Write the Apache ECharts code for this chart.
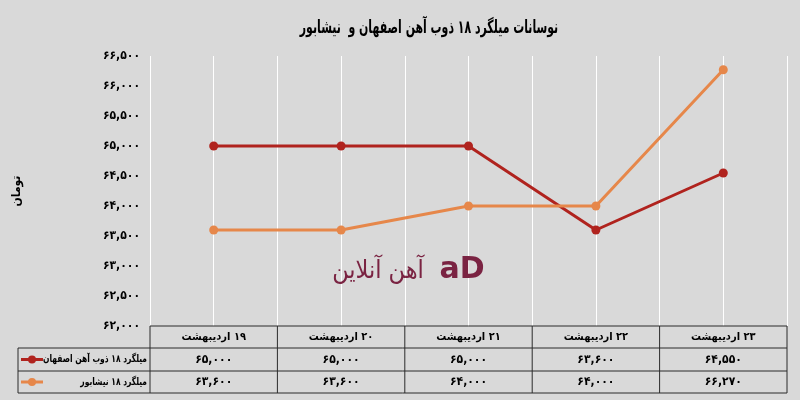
<!DOCTYPE html>
<html>
<head>
<meta charset="utf-8">
<script src="https://cdn.jsdelivr.net/npm/echarts@6/dist/echarts.min.js"></script>
<style>
html,body{margin:0;padding:0;background:#d9d9d9;}
#chart{width:800px;height:400px;}
</style>
</head>
<body>
<div id="chart"></div>
<script>
const titleText = 'نوسانات میلگرد ۱۸ ذوب آهن اصفهان و  نیشابور';
const yAxisName = 'تومان';
const categories = ['۱۹ اردیبهشت', '۲۰ اردیبهشت', '۲۱ اردیبهشت', '۲۲ اردیبهشت', '۲۳ اردیبهشت'];
const seriesNames = ['میلگرد ۱۸ ذوب آهن اصفهان', 'میلگرد ۱۸ نیشابور'];
const isfahan = [65000, 65000, 65000, 63600, 64550];
const neyshabur = [63600, 63600, 64000, 64000, 66270];
const yMin = 62000, yMax = 66500, yStep = 500;
const watermarkText = 'آهن آنلاین';

const colors = ['#b0231e', '#e6874a'];
const FONT = '"DejaVu Sans Condensed", "DejaVu Sans"';
const RLM = '\u200F';
const faDigits = '۰۱۲۳۴۵۶۷۸۹';
function fa(n){
  return String(n).replace(/\B(?=(\d{3})+(?!\d))/g, ',').replace(/\d/g, d => faDigits[+d]);
}

const gridL = 150, gridR = 13, gridT = 56, gridB = 74;
const chart = echarts.init(document.getElementById('chart'));

const option = {
  backgroundColor: '#d9d9d9',
  animation: false,
  grid: {left: gridL, right: gridR, top: gridT, bottom: gridB},
  xAxis: [
    {type: 'category', data: categories, boundaryGap: true,
     axisLine: {show: false}, axisTick: {show: false}, axisLabel: {show: false}, splitLine: {show: false}},
    {type: 'value', min: 0, max: categories.length * 2, interval: 1, show: true,
     axisLine: {show: false}, axisTick: {show: false}, axisLabel: {show: false},
     splitLine: {show: true, lineStyle: {color: '#ffffff', width: 1}}}
  ],
  yAxis: {
    type: 'value', min: yMin, max: yMax, interval: yStep,
    name: yAxisName, nameLocation: 'middle', nameRotate: 90, nameGap: 127,
    nameTextStyle: {fontFamily: FONT, fontSize: 12, fontWeight: 'bold', color: '#000'},
    axisLine: {show: false}, axisTick: {show: false}, splitLine: {show: false},
    axisLabel: {formatter: v => fa(v), margin: 10, fontFamily: FONT, fontSize: 12, fontWeight: 'bold', color: '#000'}
  },
  series: [
    {name: seriesNames[0], type: 'line', data: isfahan, xAxisIndex: 0,
     symbol: 'circle', symbolSize: 9, color: colors[0], lineStyle: {width: 3, color: colors[0]}},
    {name: seriesNames[1], type: 'line', data: neyshabur, xAxisIndex: 0,
     symbol: 'circle', symbolSize: 9, color: colors[1], lineStyle: {width: 3, color: colors[1]}}
  ]
};
chart.setOption(option);

// Data table built from the arrays, positioned via the category axis
const centers = categories.map((c, i) => chart.convertToPixel({xAxisIndex: 0}, i));
const catW = centers.length > 1 ? centers[1] - centers[0] : 100;
const xLeft = centers[0] - catW / 2;
const xRight = centers[centers.length - 1] + catW / 2;
const tTop = 400 - gridB, r1 = tTop + 22, r2 = r1 + 23, tBot = r2 + 22, legL = 18;
const stroke = '#2b2b2b';
const els = [];
function line(x1, y1, x2, y2){
  els.push({type: 'line', shape: {x1, y1, x2, y2}, style: {stroke, lineWidth: 1}, z: 10});
}
line(xLeft, tTop, xRight, tTop);
line(legL, r1, xRight, r1);
line(legL, r2, xRight, r2);
line(legL, tBot, xRight, tBot);
line(legL, r1, legL, tBot);
for (let i = 0; i <= categories.length; i++) {
  const x = xLeft + i * catW;
  line(x, tTop, x, tBot);
}
function txt(x, y, s, align, size, sx){
  els.push({type: 'text', x, y, scaleX: sx || 1, scaleY: 1, originX: 0, originY: 0, z: 11,
    style: {text: RLM + s, align, verticalAlign: 'middle',
    fontFamily: FONT, fontSize: size, fontWeight: 'bold', fill: '#000'}});
}
// title
txt(429, 28, titleText, 'center', 18, 0.675);
categories.forEach((c, i) => txt(centers[i], (tTop + r1) / 2, c, 'center', 11));
const rows = [isfahan, neyshabur];
rows.forEach((arr, k) => {
  const yc = k === 0 ? (r1 + r2) / 2 : (r2 + tBot) / 2;
  arr.forEach((v, i) => txt(centers[i], yc, fa(v), 'center', 12));
  txt(xLeft - 3, yc, seriesNames[k], 'right', 10.5, 0.8);
  els.push({type: 'line', shape: {x1: legL + 3, y1: yc, x2: legL + 25, y2: yc}, style: {stroke: colors[k], lineWidth: 3}, z: 11});
  els.push({type: 'circle', shape: {cx: legL + 14, cy: yc, r: 4}, style: {fill: colors[k]}, z: 12});
});
// watermark
els.push({type: 'text', x: 378, y: 271, z: 1, style: {text: RLM + watermarkText, align: 'center', verticalAlign: 'middle',
  fontFamily: FONT, fontSize: 25, fill: '#7a2342'}});
els.push({type: 'text', x: 462, y: 270, z: 1, style: {text: 'aD', align: 'center', verticalAlign: 'middle',
  fontFamily: 'DejaVu Sans', fontSize: 30, fontWeight: 'bold', fill: '#7a2342'}});
chart.setOption({graphic: els});
</script>
</body>
</html>
